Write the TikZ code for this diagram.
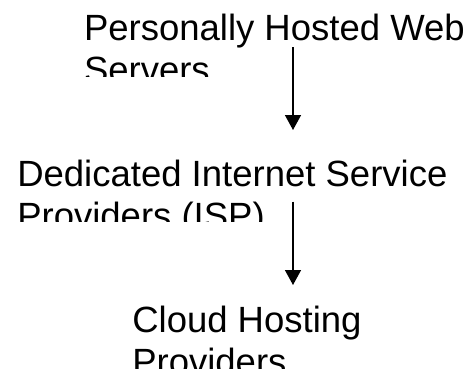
\documentclass[tikz,border=0pt]{standalone}
\usepackage{fontspec}
\setmainfont{Liberation Sans}
\usetikzlibrary{arrows.meta}
\tikzset{
  txt/.style={inner sep=0pt, outer sep=0pt, align=left, anchor=base west,
    font=\fontsize{36.5pt}{42pt}\selectfont},
  flow/.style={line width=1.5pt, -{Triangle[width=16pt,length=15pt]}}
}
\begin{document}
\begin{tikzpicture}[x=1pt,y=1pt]
\useasboundingbox[fill=white] (0,0) rectangle (475,-370);
% base anchor = baseline of the last line
\begin{scope}
  \clip (0,0) rectangle (475,-76.7);
  \node[txt] (t1) at (84,-82) {Personally Hosted Web\\Servers};
\end{scope}
\begin{scope}
  \clip (0,-140) rectangle (475,-221.7);
  \node[txt] (t2) at (17.3,-228.7) {Dedicated Internet Service\\Providers (ISP)};
\end{scope}
\begin{scope}
  \clip (0,-290) rectangle (475,-368);
  \node[txt] (t3) at (132.3,-374.5) {Cloud Hosting\\Providers};
\end{scope}
\coordinate (a1s) at (293,-47);
\coordinate (a1e) at (293,-130);
\coordinate (a2s) at (293,-201.7);
\coordinate (a2e) at (293,-285);
\draw[flow] (a1s) -- (a1e);
\draw[flow] (a2s) -- (a2e);
\end{tikzpicture}
\end{document}
